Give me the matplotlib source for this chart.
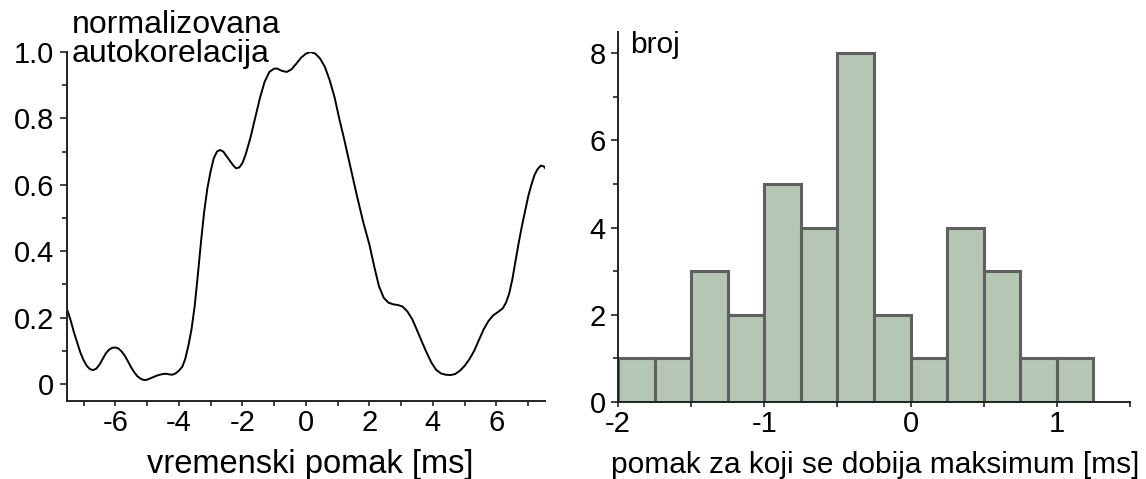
import matplotlib.pyplot as plt
import numpy as np

plt.rcParams['font.family'] = ['Liberation Sans', 'DejaVu Sans']
plt.rcParams['axes.unicode_minus'] = False

# left panel: normalized autocorrelation vs time shift
lag_ms = [-7.5, -7.4, -7.3, -7.2, -7.1, -7.0, -6.9, -6.8, -6.7, -6.6, -6.5, -6.4,
          -6.3, -6.2, -6.1, -6.0, -5.9, -5.8, -5.7, -5.6, -5.5, -5.4, -5.3, -5.2,
          -5.1, -5.0, -4.9, -4.8, -4.7, -4.6, -4.5, -4.4, -4.3, -4.2, -4.1, -4.0,
          -3.89, -3.8, -3.7, -3.6, -3.5, -3.4, -3.3, -3.2, -3.1, -3.0, -2.9, -2.8,
          -2.7, -2.6, -2.45, -2.3, -2.2, -2.1, -2.0, -1.9, -1.75, -1.6, -1.45, -1.3,
          -1.15, -1.0, -0.9, -0.75, -0.6, -0.45, -0.3, -0.15, 0.0, 0.15, 0.3, 0.45,
          0.6, 0.75, 0.9, 1.05, 1.2, 1.4, 1.6, 1.8, 2.0, 2.15, 2.3, 2.45, 2.6, 2.75,
          2.9, 3.05, 3.2, 3.35, 3.5, 3.65, 3.8, 3.95, 4.1, 4.25, 4.4, 4.55, 4.7,
          4.85, 5.0, 5.15, 5.3, 5.45, 5.6, 5.75, 5.9, 6.05, 6.2, 6.3, 6.4, 6.5, 6.6,
          6.7, 6.8, 6.9, 7.0, 7.1, 7.2, 7.3, 7.4, 7.5, 7.55]
autocorr = [0.22, 0.19, 0.155, 0.125, 0.095, 0.072, 0.055, 0.045, 0.042, 0.046, 0.058, 0.075,
            0.092, 0.103, 0.109, 0.11, 0.107, 0.098, 0.085, 0.068, 0.05, 0.035, 0.023, 0.016,
            0.012, 0.013, 0.017, 0.021, 0.025, 0.028, 0.03, 0.031, 0.029, 0.028, 0.032, 0.04,
            0.052, 0.075, 0.115, 0.165, 0.235, 0.33, 0.43, 0.52, 0.59, 0.64, 0.68, 0.70,
            0.705, 0.70, 0.68, 0.66, 0.65, 0.652, 0.665, 0.69, 0.74, 0.80, 0.86, 0.91,
            0.94, 0.95, 0.95, 0.943, 0.94, 0.948, 0.965, 0.983, 0.995, 1.0, 0.995, 0.98,
            0.955, 0.915, 0.865, 0.80, 0.74, 0.655, 0.57, 0.49, 0.42, 0.355, 0.295, 0.26, 0.245, 0.24,
            0.238, 0.233, 0.218, 0.195, 0.162, 0.128, 0.095, 0.065, 0.043, 0.032, 0.028, 0.027, 0.03,
            0.04, 0.055, 0.075, 0.10, 0.133, 0.165, 0.19, 0.207, 0.217, 0.228, 0.245, 0.272, 0.315, 0.37,
            0.425, 0.475, 0.52, 0.565, 0.60, 0.63, 0.648, 0.658, 0.655, 0.648]

# right panel: histogram of shift of the maximum
bin_left = [-2.0, -1.75, -1.5, -1.25, -1.0, -0.75, -0.5, -0.25, 0.0, 0.25, 0.5, 0.75, 1.0]
counts = [1, 1, 3, 2, 5, 4, 8, 2, 1, 4, 3, 1, 1]
bin_width = 0.25

fig = plt.figure(figsize=(11.46, 4.79), dpi=100)
ax1 = fig.add_axes([0.0582, 0.1628, 0.4174, 0.7286])
ax2 = fig.add_axes([0.5393, 0.1608, 0.4468, 0.7731])

spine_col = '#222222'
tick_fs = 21

for ax in (ax1, ax2):
    for s in ('top', 'right'):
        ax.spines[s].set_visible(False)
    for s in ('left', 'bottom'):
        ax.spines[s].set_color(spine_col)
        ax.spines[s].set_linewidth(1.4)
    ax.tick_params(axis='y', which='major', length=4.8, width=1.2, pad=4,
                   labelsize=tick_fs, color=spine_col)
    ax.tick_params(axis='y', which='minor', length=3.4, width=1.2, color=spine_col)
    ax.tick_params(axis='x', which='both', length=3.6, width=1.2, pad=2,
                   labelsize=tick_fs, color=spine_col)

# left
ax1.plot(lag_ms, autocorr, color='black', lw=1.4, solid_joinstyle='round')
ax1.set_xlim(-7.53, 7.53)
ax1.set_ylim(-0.0512, 1.0)
ax1.set_xticks([-6, -4, -2, 0, 2, 4, 6])
ax1.set_xticks([-7, -5, -3, -1, 1, 3, 5, 7], minor=True)
ax1.set_yticks([0, 0.2, 0.4, 0.6, 0.8, 1.0])
ax1.set_yticklabels(['0', '0.2', '0.4', '0.6', '0.8', '1.0'])
ax1.set_yticks([0.1, 0.3, 0.5, 0.7, 0.9], minor=True)
ax1.set_xlabel('vremenski pomak [ms]', fontsize=23.5)
ax1.xaxis.set_label_coords(0.5097, -0.2063)
ax1.xaxis.label.set_va('baseline')
ax1.text(0.0105, 1.0536, 'normalizovana', transform=ax1.transAxes,
         fontsize=23, va='baseline', ha='left')
ax1.text(0.0105, 0.9722, 'autokorelacija', transform=ax1.transAxes,
         fontsize=23, va='baseline', ha='left')

# right
ax2.bar(bin_left, counts, width=bin_width, align='edge', color='#b5c6b5',
        edgecolor='#5f5f5f', linewidth=2.2, zorder=2)
ax2.set_xlim(-2, 1.5)
ax2.set_ylim(0, 8.49)
ax2.set_xticks([-2, -1, 0, 1])
ax2.set_xticks([-1.5, -0.5, 0.5, 1.5], minor=True)
ax2.set_yticks([0, 2, 4, 6, 8])
ax2.set_yticks([1, 3, 5, 7], minor=True)
ax2.set_xlabel('pomak za koji se dobija maksimum [ms]', fontsize=21.5)
ax2.xaxis.set_label_coords(0.5014, -0.1917)
ax2.xaxis.label.set_va('baseline')
ax2.text(0.0234, 0.9417, 'broj', transform=ax2.transAxes,
         fontsize=21.5, va='baseline', ha='left')

plt.savefig('out.png', dpi=100)
